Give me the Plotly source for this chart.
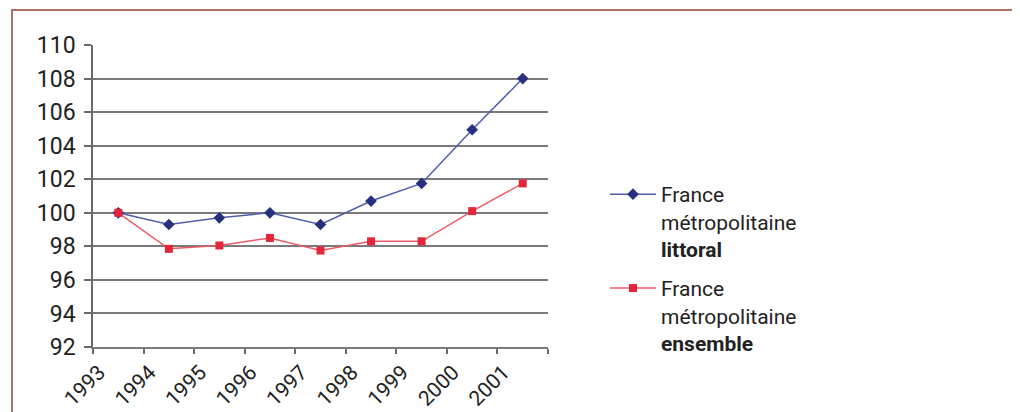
import plotly.graph_objects as go

years = ["1993", "1994", "1995", "1996", "1997", "1998", "1999", "2000", "2001"]
littoral = [100.0, 99.3, 99.7, 100.0, 99.3, 100.7, 101.75, 104.95, 108.0]
ensemble = [100.0, 97.85, 98.05, 98.5, 97.75, 98.3, 98.3, 100.1, 101.75]
y_ticks = [92, 94, 96, 98, 100, 102, 104, 106, 108, 110]

name_lit = "France<br>métropolitaine<br><b>littoral</b>"
name_ens = "France<br>métropolitaine<br><b>ensemble</b>"

xs = list(range(len(years)))
FONT = "Roboto"

# the page body has an 8px margin; figure is sized to fit the window
W, H = 1012, 404
OFF = 8
L, R, T, B = 93 - OFF, 548 - OFF, 45 - OFF, 347 - OFF

fig = go.Figure()
fig.add_trace(go.Scatter(
    x=xs, y=littoral, name=name_lit, mode="lines+markers", legendgroup="a",
    line=dict(color="#4f5fae", width=1.5),
    marker=dict(symbol="diamond", size=9, color="#27307f"),
))
fig.add_trace(go.Scatter(
    x=xs, y=ensemble, name=name_ens, mode="lines+markers", legendgroup="b",
    line=dict(color="#ec5a66", width=1.5),
    marker=dict(symbol="square", size=8, color="#e3263a"),
))

fig.update_layout(
    width=W, height=H,
    margin=dict(l=L, r=W - R, t=T, b=H - B, autoexpand=False),
    paper_bgcolor="white", plot_bgcolor="white",
    font=dict(family=FONT, color="#222222", size=21),
    showlegend=True,
    legend=dict(
        xref="container", yref="container",
        x=(605 - OFF) / W, y=1 - (174 - OFF) / H, xanchor="left", yanchor="top",
        valign="top", tracegroupgap=9, itemwidth=46,
        font=dict(family=FONT, size=21, color="#222222"),
        bgcolor="rgba(0,0,0,0)",
    ),
    xaxis=dict(
        range=[-0.5, 8.5],
        tickmode="array",
        tickvals=[i - 0.38 for i in xs],
        ticktext=years,
        tickangle=-45,
        ticks="", showgrid=False, zeroline=False,
        showline=True, linecolor="#7a7a7a", linewidth=1.5,
        tickfont=dict(family=FONT, size=21, color="#222222"),
        ticklabelstandoff=3,
        minor=dict(tick0=-0.5, dtick=1, ticks="outside", ticklen=5,
                   tickcolor="#6a6a6a", tickwidth=1.5, showgrid=False),
    ),
    yaxis=dict(
        range=[92, 110],
        tickmode="array", tickvals=y_ticks,
        ticks="outside", ticklen=7, tickcolor="#6a6a6a", tickwidth=1.5,
        showgrid=True, gridcolor="#7a7a7a", gridwidth=1.5,
        zeroline=False,
        showline=True, linecolor="#6a6a6a", linewidth=1.5,
        tickfont=dict(family=FONT, size=23, color="#222222"),
        ticklabelstandoff=4,
    ),
)

# outer frame (reddish-brown)
pw, ph = R - L, B - T
def px_x(p):
    return (p - OFF - L) / pw
def px_y(p):
    return (B - (p - OFF)) / ph

fig.add_shape(type="rect", xref="paper", yref="paper",
              x0=px_x(12), x1=px_x(1015), y0=px_y(440), y1=px_y(10),
              line=dict(color="#b36c66", width=2), layer="below")

fig.write_html("out.html")
